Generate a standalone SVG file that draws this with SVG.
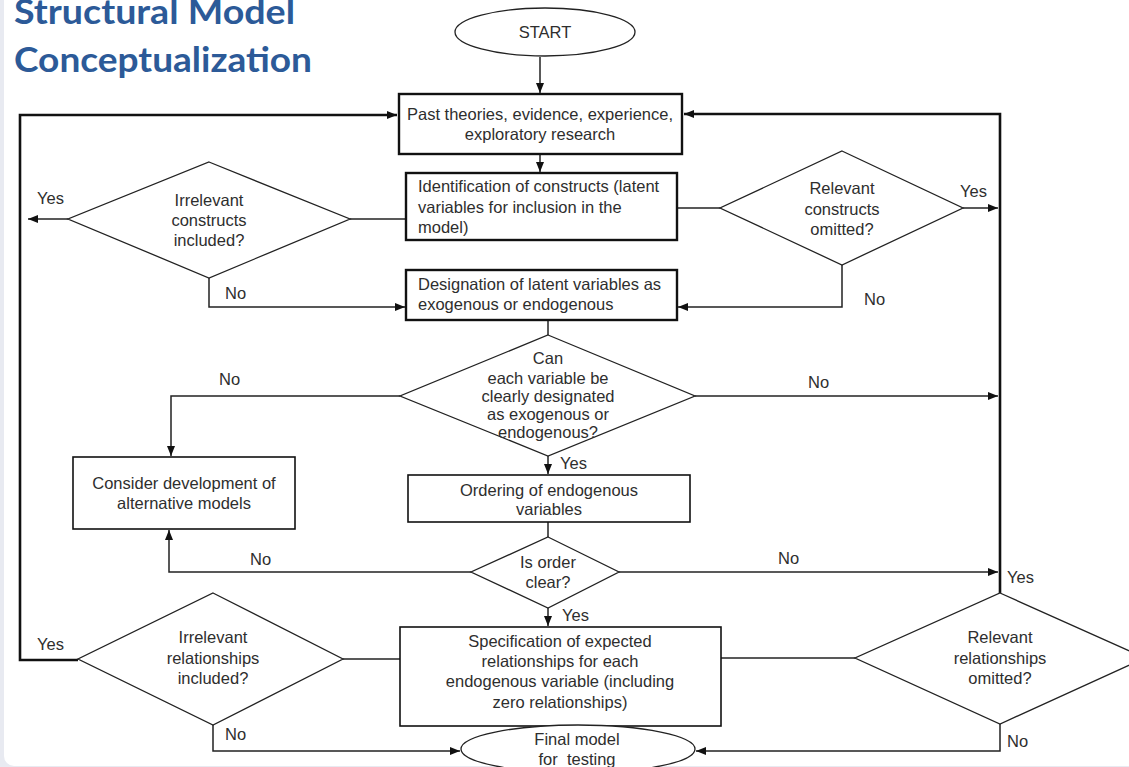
<svg xmlns="http://www.w3.org/2000/svg" width="1129" height="767" viewBox="0 0 1129 767">
  <style>
    .title { font-family: Lato, "Open Sans", sans-serif; font-weight: 700; font-size: 35px; fill: #2c5a98; }
    .t { font-family: "Liberation Sans", Arial, sans-serif; font-size: 16.5px; fill: #2e2e2e; }
    .c { text-anchor: middle; }
    .box { fill: #fff; stroke: #111; stroke-width: 1.6; }
    .boxb { fill: #fff; stroke: #111; stroke-width: 2.4; }
    .dia { fill: #fff; stroke: #222; stroke-width: 1.3; }
    .ell { fill: #fff; stroke: #222; stroke-width: 1.3; }
    .ln { fill: none; stroke: #222; stroke-width: 1.5; }
    .lnb { fill: none; stroke: #111; stroke-width: 2.6; }
  </style>
  <defs>
    <marker id="arr" viewBox="0 0 10 8" refX="10" refY="4" markerWidth="10" markerHeight="8" markerUnits="userSpaceOnUse" orient="auto">
      <path d="M0,0 L10,4 L0,8 z" fill="#111"/>
    </marker>
  </defs>

  <!-- page background -->
  <rect x="0" y="0" width="1129" height="767" fill="#e8eaf1"/>
  <rect x="4" y="-20" width="1145" height="786" rx="10" fill="#fff"/>

  <!-- heading -->
  <g id="title">
    <text class="title" x="14" y="24" textLength="281" lengthAdjust="spacingAndGlyphs">Structural Model</text>
    <text class="title" x="14" y="72" textLength="298" lengthAdjust="spacingAndGlyphs">Conceptualization</text>
  </g>

  <!-- connectors -->
  <g id="connectors">
    <path class="ln" d="M540,57 V93" marker-end="url(#arr)"/>
    <path class="ln" d="M540,154 V172" marker-end="url(#arr)"/>
    <path class="ln" d="M406,219 H350"/>
    <path class="ln" d="M677,208 H720"/>
    <path class="ln" d="M68,219 H28" marker-end="url(#arr)"/>
    <path class="ln" d="M209,278 V307 H405" marker-end="url(#arr)"/>
    <path class="ln" d="M963,208 H998" marker-end="url(#arr)"/>
    <path class="ln" d="M842,265 V307 H678" marker-end="url(#arr)"/>
    <path class="ln" d="M548,320 V335"/>
    <path class="ln" d="M400,396 H171 V456" marker-end="url(#arr)"/>
    <path class="ln" d="M695,396 H998" marker-end="url(#arr)"/>
    <path class="ln" d="M548,456 V474" marker-end="url(#arr)"/>
    <path class="ln" d="M548,522 V537"/>
    <path class="ln" d="M471,572 H169 V530" marker-end="url(#arr)"/>
    <path class="ln" d="M619,572 H998" marker-end="url(#arr)"/>
    <path class="ln" d="M548,608 V626" marker-end="url(#arr)"/>
    <path class="ln" d="M343,659 H400"/>
    <path class="ln" d="M721,658 H855"/>
    <path class="ln" d="M213,725 V751 H460" marker-end="url(#arr)"/>
    <path class="ln" d="M1000,724 V751 H696" marker-end="url(#arr)"/>
    <!-- return loops to the first step -->
    <path class="lnb" d="M78,660 H20 V115 H397" marker-end="url(#arr)"/>
    <path class="lnb" d="M1000,593 V114 H684" marker-end="url(#arr)"/>
  </g>

  <g id="start">
    <ellipse class="ell" cx="545" cy="32" rx="90" ry="24"/>
    <text class="t c" x="545" y="38">START</text>
  </g>

  <g id="past-theories">
    <rect class="boxb" x="399" y="94" width="283" height="60"/>
    <text class="t c" x="540" y="120">Past theories, evidence, experience,</text>
    <text class="t c" x="540" y="140">exploratory research</text>
  </g>

  <g id="identification">
    <rect class="boxb" x="406" y="173" width="271" height="67"/>
    <text class="t" x="418" y="192">Identification of constructs (latent</text>
    <text class="t" x="418" y="213">variables for inclusion in the</text>
    <text class="t" x="418" y="233">model)</text>
  </g>

  <g id="irrelevant-constructs">
    <polygon class="dia" points="209,162 350,219 209,278 68,219"/>
    <text class="t c" x="209" y="206">Irrelevant</text>
    <text class="t c" x="209" y="226">constructs</text>
    <text class="t c" x="209" y="246">included?</text>
  </g>

  <g id="relevant-constructs">
    <polygon class="dia" points="842,151 963,208 842,265 720,208"/>
    <text class="t c" x="842" y="194">Relevant</text>
    <text class="t c" x="842" y="215">constructs</text>
    <text class="t c" x="842" y="235">omitted?</text>
  </g>

  <g id="designation">
    <rect class="boxb" x="406" y="270" width="271" height="50"/>
    <text class="t" x="418" y="290">Designation of latent variables as</text>
    <text class="t" x="418" y="310">exogenous or endogenous</text>
  </g>

  <g id="designate-check">
    <polygon class="dia" points="548,335 695,396 548,456 400,396"/>
    <text class="t c" x="548" y="364">Can</text>
    <text class="t c" x="548" y="384">each variable be</text>
    <text class="t c" x="548" y="402">clearly designated</text>
    <text class="t c" x="548" y="420">as exogenous or</text>
    <text class="t c" x="548" y="438">endogenous?</text>
  </g>

  <g id="alternative-models">
    <rect class="box" x="73" y="457" width="222" height="72"/>
    <text class="t c" x="184" y="489">Consider development of</text>
    <text class="t c" x="184" y="509">alternative models</text>
  </g>

  <g id="ordering">
    <rect class="box" x="408" y="475" width="282" height="47"/>
    <text class="t c" x="549" y="496">Ordering of endogenous</text>
    <text class="t c" x="549" y="515">variables</text>
  </g>

  <g id="order-check">
    <polygon class="dia" points="548,537 619,572 548,608 471,572"/>
    <text class="t c" x="548" y="568">Is order</text>
    <text class="t c" x="548" y="588">clear?</text>
  </g>

  <g id="specification">
    <rect class="box" x="400" y="627" width="321" height="99"/>
    <text class="t c" x="560" y="647">Specification of expected</text>
    <text class="t c" x="560" y="667">relationships for each</text>
    <text class="t c" x="560" y="687">endogenous variable (including</text>
    <text class="t c" x="560" y="708">zero relationships)</text>
  </g>

  <g id="irrelevant-relationships">
    <polygon class="dia" points="213,593 343,659 213,725 78,659"/>
    <text class="t c" x="213" y="643">Irrelevant</text>
    <text class="t c" x="213" y="664">relationships</text>
    <text class="t c" x="213" y="684">included?</text>
  </g>

  <g id="relevant-relationships">
    <polygon class="dia" points="1000,593 1145,658 1000,724 855,658"/>
    <text class="t c" x="1000" y="643">Relevant</text>
    <text class="t c" x="1000" y="664">relationships</text>
    <text class="t c" x="1000" y="684">omitted?</text>
  </g>

  <g id="final-model">
    <ellipse class="ell" cx="578" cy="749" rx="117" ry="24"/>
    <text class="t c" x="577" y="745">Final model</text>
    <text class="t c" x="577" y="765">for&#160; testing</text>
  </g>

  <!-- branch labels -->
  <g id="labels">
    <text class="t" x="37" y="204">Yes</text>
    <text class="t" x="225" y="299">No</text>
    <text class="t" x="960" y="197">Yes</text>
    <text class="t" x="864" y="305">No</text>
    <text class="t" x="219" y="385">No</text>
    <text class="t" x="808" y="388">No</text>
    <text class="t" x="560" y="469">Yes</text>
    <text class="t" x="250" y="565">No</text>
    <text class="t" x="778" y="564">No</text>
    <text class="t" x="1007" y="583">Yes</text>
    <text class="t" x="562" y="621">Yes</text>
    <text class="t" x="37" y="650">Yes</text>
    <text class="t" x="225" y="740">No</text>
    <text class="t" x="1007" y="747">No</text>
  </g>
</svg>
